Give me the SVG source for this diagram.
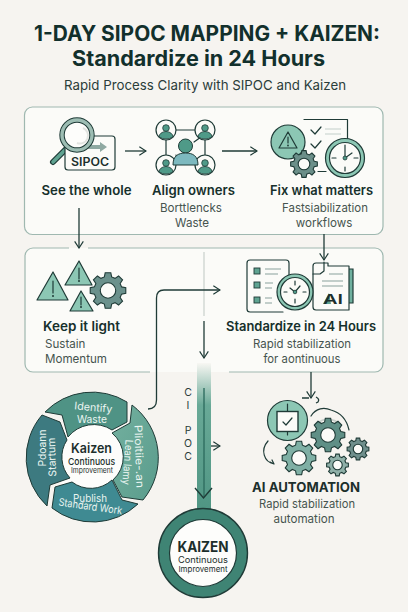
<svg xmlns="http://www.w3.org/2000/svg" width="408" height="612" viewBox="0 0 408 612">
<style>
text{font-family:Inter,"Liberation Sans",Arial,sans-serif;fill:#1c2f2c}
.t1{font-size:21px;font-weight:700;fill:#12302c}
.sub{font-size:13.6px;fill:#2b3d3a}
.h{font-size:13.2px;font-weight:600;fill:#16302c}
.d{font-size:11.6px;fill:#46544f}
.c{text-anchor:middle}
.w{fill:#eaf5f1;font-size:10.6px;text-anchor:middle}
.panel{fill:#fbfbf8;stroke:#9fb8b0;stroke-width:1.2}
.edge{fill:none;stroke:#1f3b37;stroke-width:1.3}
.ln{fill:none;stroke:#1f3b37;stroke-width:1.2;stroke-linecap:round;stroke-linejoin:round}
.gr{stroke:#8aa19b;stroke-width:1.2;fill:none}
.g path,.g circle{vector-effect:non-scaling-stroke}
.g{stroke:#1f3b37;stroke-width:1.1}
.cp{font-size:10.5px;text-anchor:middle;fill:#2b3d3a}
</style>
<defs>
<marker id="ah" viewBox="0 0 12 12" refX="11" refY="6" markerWidth="10" markerHeight="10" markerUnits="userSpaceOnUse" orient="auto"><path d="M3 0.8 L11 6 L3 11.2" fill="none" stroke="#1f3b37" stroke-width="1.4"/></marker>
<linearGradient id="col" x1="0" y1="0" x2="0" y2="1"><stop offset="0" stop-color="#f8f7f3"/><stop offset=".28" stop-color="#69a997"/><stop offset="1" stop-color="#4f9583"/></linearGradient>
<linearGradient id="seg" x1="0" y1="0" x2="1" y2="1"><stop offset="0" stop-color="#73b09f"/><stop offset="1" stop-color="#5a9c8c"/></linearGradient>
<g id="gear" class="g"><path d="M7.53-2.02 9.88-1.56 9.88 1.56 7.53 2.02 6.75 3.9 8.09 5.88 5.88 8.09 3.9 6.75 2.02 7.53 1.56 9.88-1.56 9.88-2.02 7.53-3.9 6.75-5.88 8.09-8.09 5.88-6.75 3.9-7.53 2.02-9.88 1.56-9.88-1.56-7.53-2.02-6.75-3.9-8.09-5.88-5.88-8.09-3.9-6.75-2.02-7.53-1.56-9.88 1.56-9.88 2.02-7.53 3.9-6.75 5.88-8.09 8.09-5.88 6.75-3.9Z"/><circle r="4.3" fill="#fbfbf8"/></g>
</defs>
<rect width="408" height="612" fill="#f6f4f0"/>
<g id="title">
<text class="t1" x="34" y="41" textLength="346" lengthAdjust="spacingAndGlyphs">1-DAY SIPOC MAPPING + KAIZEN:</text>
<text class="t1" x="72" y="66" textLength="253" lengthAdjust="spacingAndGlyphs">Standardize in 24 Hours</text>
<text class="sub" x="64" y="90" textLength="282" lengthAdjust="spacingAndGlyphs">Rapid Process Clarity with SIPOC and Kaizen</text>
</g>
<g id="panel-top"><rect class="panel" x="24.500" y="107" width="358.500" height="127.500" rx="8"/></g>
<g id="panel-bottom">
<rect x="25" y="248" width="358" height="124" rx="8" fill="#fbfbf8"/>
<path d="M88 248H375a8 8 0 0 1 8 8V364a8 8 0 0 1-8 8H229" fill="none" stroke="#9fb8b0" stroke-width="1.2"/>
<path d="M69 248H33a8 8 0 0 0-8 8V364a8 8 0 0 0 8 8H150" fill="none" stroke="#9fb8b0" stroke-width="1.2"/>
<path d="M156 372H229V366H156Z" fill="#f6f4f0" opacity="0"/>
<path d="M204 252V316" stroke="#c9d0cc" stroke-width="1.2"/>
</g>
<g id="node-see">
<path d="M53 162L67 148" stroke="#1f3b37" stroke-width="6" stroke-linecap="round"/><path d="M53 162L67 148" stroke="#5fa391" stroke-width="3.6" stroke-linecap="round"/>
<rect x="65" y="136" width="50" height="34" rx="3" fill="#fbfbf8" stroke="#1f3b37" stroke-width="1.2"/>
<path d="M84 145H100V142L107 147 100 152V149H84Z" fill="#8fa9a2"/>
<circle cx="77" cy="135" r="15" fill="#fdfdfb" stroke="#1f3b37" stroke-width="5.400"/><circle cx="77" cy="135" r="15" fill="none" stroke="#9dbdb3" stroke-width="3.400"/>
<path d="M83 128a8 8 0 0 1-6 15" fill="none" stroke="#e2e4e0" stroke-width="2"/>
<text x="71" y="166" font-size="11.600" font-weight="600" textLength="38" lengthAdjust="spacingAndGlyphs">SIPOC</text>
<text class="h c" x="86.500" y="195" textLength="90" lengthAdjust="spacingAndGlyphs">See the whole</text>
</g>
<g id="node-align">
<path class="ln" d="M176 130H195M166 140V155M205 140V155M177 158L176 155M194 142L201 137"/>
<g fill="#fbfbf8" stroke="#1f3b37" stroke-width="1.2">
<circle cx="166" cy="130" r="10"/><circle cx="205" cy="130" r="10"/><circle cx="166" cy="165" r="10"/><circle cx="205" cy="165" r="10"/>
</g>
<g fill="#4f9a88" stroke="#1f3b37" stroke-width=".8">
<circle cx="166" cy="128" r="3.300"/><path d="M159 137a7 5.500 0 0 1 14 0Q166 141 159 137Z"/>
<circle cx="205" cy="128" r="3.300"/><path d="M198 137a7 5.500 0 0 1 14 0Q205 141 198 137Z"/>
<circle cx="166" cy="163" r="3.300"/><path d="M159 172a7 5.500 0 0 1 14 0Q166 176 159 172Z"/>
<circle cx="205" cy="163" r="3.300"/><path d="M198 172a7 5.500 0 0 1 14 0Q205 176 198 172Z"/>
</g>
<circle cx="185.500" cy="146" r="7" fill="#4f9a88" stroke="#1f3b37" stroke-width="1"/>
<path d="M173 165C173 156 178 153 185.500 153S198 156 198 165Z" fill="#7db9bf" stroke="#1f3b37" stroke-width="1"/>
<text class="h c" x="193.500" y="195" textLength="83" lengthAdjust="spacingAndGlyphs">Align owners</text>
<text class="d c" x="191" y="212" textLength="62" lengthAdjust="spacingAndGlyphs">Borttlencks</text>
<text class="d c" x="192" y="227">Waste</text>
</g>
<g id="node-fix">
<rect x="304" y="119.500" width="43.500" height="52" fill="#fbfbf8"/>
<path class="ln" d="M304 119.500H347.500V140M318 171.500H326"/>
<path class="ln" d="M311 130L315 134 321 127M311 144L315 148 321 141"/>
<path class="gr" d="M325 129H341M325 134H341" style="stroke:#c4cfca"/>
<circle cx="288" cy="142" r="17" fill="#8cc7b4" stroke="#1f3b37" stroke-width="1.200"/>
<path class="ln" d="M288 132L279 148H297Z M288 137V143"/><circle cx="288" cy="145.500" r=".9" fill="#1f3b37"/>
<use href="#gear" transform="translate(304 164) scale(1.35)" fill="#6b8f89"/>
<circle cx="345" cy="158" r="19.500" fill="#8cc7b4" stroke="#1f3b37" stroke-width="1.200"/>
<circle cx="345" cy="158" r="15.500" fill="#fbfbf8" stroke="#1f3b37" stroke-width="1.200"/>
<path class="ln" d="M345 145V149M345 167V171M332 158H336M354 158H358M345 158V147M345 158L352 153"/>
<circle cx="345" cy="158" r="2" fill="#4f9a88" stroke="#1f3b37" stroke-width=".8"/>
<text class="h c" x="321.500" y="195" textLength="103" lengthAdjust="spacingAndGlyphs">Fix what matters</text>
<text class="d c" x="325" y="212" textLength="86" lengthAdjust="spacingAndGlyphs">Fastsiabilization</text>
<text class="d c" x="324" y="227">workflows</text>
</g>
<g id="node-light">
<path class="ln" d="M53 272L37 300H68Z" style="fill:#8cc7b4"/>
<path class="ln" d="M79 261L65 285H92Z" style="fill:#8cc7b4"/>
<path class="ln" d="M81 291L70 311H93Z" style="fill:#8cc7b4"/>
<path class="ln" d="M53 281V293M79 268V279M81 297V305"/>
<circle cx="53" cy="296" r="1" fill="#1f3b37"/><circle cx="79" cy="281" r="1" fill="#1f3b37"/><circle cx="81" cy="307" r="1" fill="#1f3b37"/>
<use href="#gear" transform="translate(108 290.500) scale(1.8)" fill="#6b918c"/>
<text class="h" x="43" y="331" textLength="77" lengthAdjust="spacingAndGlyphs">Keep it light</text>
<text class="d" x="45" y="348">Sustain</text>
<text class="d" x="45" y="363">Momentum</text>
</g>
<g id="node-standardize">
<path class="ln" d="M283 312H250a3 3 0 0 1-3-3V263a3 3 0 0 1 3-3H286a3 3 0 0 1 3 3V276" style="fill:#fbfbf8"/>
<g fill="#5fa391" stroke="#1f3b37" stroke-width=".9"><rect x="254" y="268" width="6" height="6"/><rect x="254" y="282" width="6" height="6"/><rect x="254" y="297" width="6" height="6"/></g>
<path class="gr" d="M265 269H281M265 274H278M265 283H273M265 288H272M265 298H272M265 303H272"/>
<path d="M349 269H353V303H349" fill="#6fb09f" stroke="#1f3b37" stroke-width="1.200"/>
<path class="ln" d="M316 263H328V266H349V310H316a3 3 0 0 1-3-3V266a3 3 0 0 1 3-3Z" style="fill:#fbfbf8"/>
<path class="ln" d="M324 262V271L320 274H313"/>
<path class="gr" d="M329 274H343M322 281H343M322 286H343"/>
<path d="M323 304L329 293 331 304Z" fill="#5fa391"/>
<text x="323" y="304" font-size="13" font-weight="600" textLength="20" lengthAdjust="spacingAndGlyphs">AI</text>
<circle cx="295" cy="292" r="18" fill="#8cc7b4" stroke="#1f3b37" stroke-width="1.200"/>
<circle cx="295" cy="292" r="14.500" fill="#fbfbf8" stroke="#1f3b37" stroke-width="1.200"/>
<path class="ln" d="M295 281V285M295 299V303M284 292H287M303 292H306M295 292L290 288M295 292L300 286"/>
<circle cx="295" cy="292" r="1.800" fill="#4f9a88" stroke="#1f3b37" stroke-width=".8"/>
<text class="h c" x="301" y="331" textLength="150" lengthAdjust="spacingAndGlyphs">Standardize in 24 Hours</text>
<text class="d c" x="302" y="348" textLength="98" lengthAdjust="spacingAndGlyphs">Rapid stabilization</text>
<text class="d c" x="302" y="363" textLength="77" lengthAdjust="spacingAndGlyphs">for aontinuous</text>
</g>
<g id="node-column">
<rect x="197" y="363" width="14" height="150" fill="url(#col)"/>
<path d="M204 388V497" stroke="#2f6e60" stroke-width="1.400"/>
<path d="M195 488L203.500 498 212 488" fill="none" stroke="#1f3b37" stroke-width="1.400"/>
<text class="cp" x="188" y="396">C</text>
<text class="cp" x="188" y="409">I</text>
<text class="cp" x="188" y="434">P</text>
<text class="cp" x="188" y="447">O</text>
<text class="cp" x="188" y="460">C</text>
</g>
<g id="node-kaizen-badge">
<circle cx="203" cy="553" r="44.500" fill="#3f8474" stroke="#1f3b37" stroke-width="1.400"/>
<circle cx="203" cy="553" r="33.500" fill="#fdfdfb" stroke="#1f3b37" stroke-width="1.200"/>
<text class="c" x="203" y="552" font-size="14" font-weight="700" textLength="51" lengthAdjust="spacingAndGlyphs">KAIZEN</text>
<text class="c" x="203" y="563" font-size="9" textLength="50" lengthAdjust="spacingAndGlyphs">Continuous</text>
<text class="c" x="203" y="572" font-size="8" textLength="49" lengthAdjust="spacingAndGlyphs">Improvement</text>
</g>
<g id="node-wheel">
<circle cx="92" cy="458" r="40" fill="#fdfdfb"/>
<g stroke="#1f3b37" stroke-width="1">
<path d="M45 412A66 66 0 0 1 127 402V422L112 430A33 33 0 0 0 68 437L62 415Z" fill="#4f9385"/>
<path d="M132 405A66 66 0 0 1 143 500L122 497 113 480A31 31 0 0 0 112 433L130 423Z" fill="url(#seg)"/>
<path d="M138 504A66 66 0 0 1 52 508L55 487 72 482A31 31 0 0 0 112 480L122 500Z" fill="#3f8a92"/>
<path d="M42 415L60 422 67 440A31 31 0 0 0 70 478L50 485 47 506A66 66 0 0 1 42 415Z" fill="#3d7a80"/>
</g>
<text class="w" transform="translate(93 411) rotate(5)" textLength="38" lengthAdjust="spacingAndGlyphs">Identify</text>
<text class="w" x="92" y="423" textLength="30" lengthAdjust="spacingAndGlyphs">Waste</text>
<text class="w" transform="translate(135.500 456.500) rotate(88)" textLength="63" lengthAdjust="spacingAndGlyphs">Plioitiie-.an</text>
<text class="w" transform="translate(124 462) rotate(94)" textLength="45" lengthAdjust="spacingAndGlyphs">Lean lamy</text>
<text class="w" transform="translate(45.500 448) rotate(-90)" textLength="37" lengthAdjust="spacingAndGlyphs">Pdoann</text>
<text class="w" transform="translate(55.500 457) rotate(-92)" textLength="39" lengthAdjust="spacingAndGlyphs">Startum</text>
<text class="w" x="90" y="502" textLength="34" lengthAdjust="spacingAndGlyphs">Publish</text>
<text class="w" transform="translate(90 510) rotate(8)" textLength="64" lengthAdjust="spacingAndGlyphs">Standard Work</text>
<text class="c" x="91.500" y="453" font-size="13.500" font-weight="600" textLength="41" lengthAdjust="spacingAndGlyphs">Kaizen</text>
<text class="c" x="91.500" y="465" font-size="9.500" font-weight="500" textLength="47" lengthAdjust="spacingAndGlyphs">Continuous</text>
<text class="c" x="92" y="473" font-size="7.500" textLength="42" lengthAdjust="spacingAndGlyphs">Improvement</text>
</g>
<g id="node-ai">
<circle cx="287.500" cy="420.500" r="20" fill="#8cc7b4" stroke="#1f3b37" stroke-width="1.200"/>
<rect x="277" y="411.500" width="21" height="20" fill="#fbfbf8" stroke="#1f3b37" stroke-width="1.400"/>
<path class="ln" d="M287.500 404V411M287.500 432V435M283 422L286 425 292 418"/>
<path class="ln" d="M311 416C316 408 324 407 331 410 342 413 347 421 349 430"/>
<path d="M318 423C323 418 334 418 339 424" fill="none" stroke="#c9d0cc" stroke-width="1.600"/>
<path class="ln" d="M268 441C260 450 264 462 274 464M270 462L274 464 272 460"/>
<use href="#gear" transform="translate(328 435) scale(1.7)" fill="#5f8f86"/>
<use href="#gear" transform="translate(299 458) scale(1.7)" fill="#7fb0a5"/>
<use href="#gear" transform="translate(337.500 465) scale(1.1)" fill="#8fb0a8"/>
<use href="#gear" transform="translate(358 449) scale(1.1)" fill="#6f8f8c"/>
<text x="252" y="492" font-size="13.600" font-weight="700" textLength="108" lengthAdjust="spacingAndGlyphs">AI AUTOMATION</text>
<text class="d c" x="307" y="508" textLength="96" lengthAdjust="spacingAndGlyphs">Rapid stabilization</text>
<text class="d c" x="304" y="523">automation</text>
</g>
<g id="connectors">
<path class="edge" marker-end="url(#ah)" d="M125 151H146"/>
<path class="edge" marker-end="url(#ah)" d="M222 151H257"/>
<path class="edge" marker-end="url(#ah)" d="M79 208V248"/>
<path class="edge" marker-end="url(#ah)" d="M324 234V260"/>
<path class="edge" marker-end="url(#ah)" d="M148 409Q156.500 409 156.500 400V298Q156.500 290 164 290H220"/>
<path class="edge" marker-end="url(#ah)" d="M204 321V358"/>
<path class="edge" marker-end="url(#ah)" d="M211 446H220"/>
<path class="edge" marker-end="url(#ah)" d="M311 372V398"/>
<path class="edge" d="M302 398H309M316 397Q320 399 318 402L316 403"/>
</g>
</svg>
